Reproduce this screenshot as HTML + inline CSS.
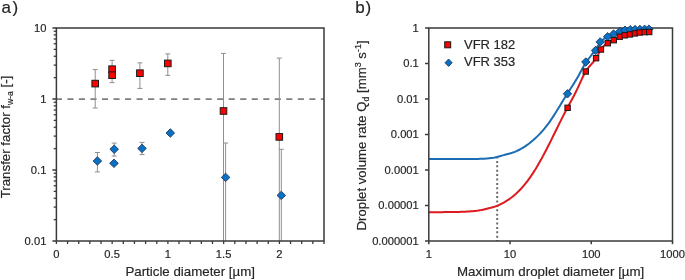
<!DOCTYPE html>
<html><head><meta charset="utf-8"><style>html,body{margin:0;padding:0;background:#fff;}svg{display:block;will-change:transform;}text{-webkit-font-smoothing:antialiased;}</style></head>
<body><svg width="685" height="280" viewBox="0 0 685 280" font-family="'Liberation Sans', sans-serif">
<style>text{stroke:#262626;stroke-width:0.18px;}</style>
<rect width="685" height="280" fill="#fff"/>
<text x="1.6" y="13.1" font-size="17" fill="#262626">a<tspan dx="1.4">)</tspan></text>
<text x="355.2" y="12.9" font-size="17" fill="#262626">b<tspan dx="0.8">)</tspan></text>
<line x1="55.9" y1="99.00" x2="324.00" y2="99.00" stroke="#7f7f7f" stroke-width="1.75" stroke-dasharray="6.1 5.42"/>
<line x1="95.20" y1="69.60" x2="95.20" y2="108.00" stroke="#8f8f8f" stroke-width="1"/><line x1="92.70" y1="69.60" x2="97.70" y2="69.60" stroke="#8f8f8f" stroke-width="1"/><line x1="92.70" y1="108.00" x2="97.70" y2="108.00" stroke="#8f8f8f" stroke-width="1"/>
<line x1="112.10" y1="60.30" x2="112.10" y2="82.60" stroke="#8f8f8f" stroke-width="1"/><line x1="109.60" y1="60.30" x2="114.60" y2="60.30" stroke="#8f8f8f" stroke-width="1"/><line x1="109.60" y1="82.60" x2="114.60" y2="82.60" stroke="#8f8f8f" stroke-width="1"/>
<line x1="139.90" y1="62.90" x2="139.90" y2="88.40" stroke="#8f8f8f" stroke-width="1"/><line x1="137.40" y1="62.90" x2="142.40" y2="62.90" stroke="#8f8f8f" stroke-width="1"/><line x1="137.40" y1="88.40" x2="142.40" y2="88.40" stroke="#8f8f8f" stroke-width="1"/>
<line x1="167.80" y1="53.90" x2="167.80" y2="75.40" stroke="#8f8f8f" stroke-width="1"/><line x1="165.30" y1="53.90" x2="170.30" y2="53.90" stroke="#8f8f8f" stroke-width="1"/><line x1="165.30" y1="75.40" x2="170.30" y2="75.40" stroke="#8f8f8f" stroke-width="1"/>
<line x1="223.50" y1="53.40" x2="223.50" y2="241.00" stroke="#8f8f8f" stroke-width="1"/><line x1="221.00" y1="53.40" x2="226.00" y2="53.40" stroke="#8f8f8f" stroke-width="1"/>
<line x1="279.30" y1="58.10" x2="279.30" y2="241.00" stroke="#8f8f8f" stroke-width="1"/><line x1="276.80" y1="58.10" x2="281.80" y2="58.10" stroke="#8f8f8f" stroke-width="1"/>
<line x1="97.40" y1="152.50" x2="97.40" y2="171.90" stroke="#8f8f8f" stroke-width="1"/><line x1="94.90" y1="152.50" x2="99.90" y2="152.50" stroke="#8f8f8f" stroke-width="1"/><line x1="94.90" y1="171.90" x2="99.90" y2="171.90" stroke="#8f8f8f" stroke-width="1"/>
<line x1="114.20" y1="143.10" x2="114.20" y2="156.00" stroke="#8f8f8f" stroke-width="1"/><line x1="111.70" y1="143.10" x2="116.70" y2="143.10" stroke="#8f8f8f" stroke-width="1"/><line x1="111.70" y1="156.00" x2="116.70" y2="156.00" stroke="#8f8f8f" stroke-width="1"/>
<line x1="142.00" y1="142.40" x2="142.00" y2="154.60" stroke="#8f8f8f" stroke-width="1"/><line x1="139.50" y1="142.40" x2="144.50" y2="142.40" stroke="#8f8f8f" stroke-width="1"/><line x1="139.50" y1="154.60" x2="144.50" y2="154.60" stroke="#8f8f8f" stroke-width="1"/>
<line x1="225.60" y1="143.00" x2="225.60" y2="241.00" stroke="#8f8f8f" stroke-width="1"/><line x1="223.10" y1="143.00" x2="228.10" y2="143.00" stroke="#8f8f8f" stroke-width="1"/>
<line x1="281.30" y1="149.30" x2="281.30" y2="241.00" stroke="#8f8f8f" stroke-width="1"/><line x1="278.80" y1="149.30" x2="283.80" y2="149.30" stroke="#8f8f8f" stroke-width="1"/>
<rect x="56.40" y="28.00" width="267.60" height="213.00" fill="none" stroke="#3a3a3a" stroke-width="1.5"/>
<line x1="52.4" y1="241.00" x2="56.40" y2="241.00" stroke="#3a3a3a" stroke-width="1.5"/>
<line x1="53.7" y1="219.63" x2="56.40" y2="219.63" stroke="#3a3a3a" stroke-width="1.3"/>
<line x1="53.7" y1="207.12" x2="56.40" y2="207.12" stroke="#3a3a3a" stroke-width="1.3"/>
<line x1="53.7" y1="198.25" x2="56.40" y2="198.25" stroke="#3a3a3a" stroke-width="1.3"/>
<line x1="53.7" y1="191.37" x2="56.40" y2="191.37" stroke="#3a3a3a" stroke-width="1.3"/>
<line x1="53.7" y1="185.75" x2="56.40" y2="185.75" stroke="#3a3a3a" stroke-width="1.3"/>
<line x1="53.7" y1="181.00" x2="56.40" y2="181.00" stroke="#3a3a3a" stroke-width="1.3"/>
<line x1="53.7" y1="176.88" x2="56.40" y2="176.88" stroke="#3a3a3a" stroke-width="1.3"/>
<line x1="53.7" y1="173.25" x2="56.40" y2="173.25" stroke="#3a3a3a" stroke-width="1.3"/>
<line x1="52.4" y1="170.00" x2="56.40" y2="170.00" stroke="#3a3a3a" stroke-width="1.5"/>
<line x1="53.7" y1="148.63" x2="56.40" y2="148.63" stroke="#3a3a3a" stroke-width="1.3"/>
<line x1="53.7" y1="136.12" x2="56.40" y2="136.12" stroke="#3a3a3a" stroke-width="1.3"/>
<line x1="53.7" y1="127.25" x2="56.40" y2="127.25" stroke="#3a3a3a" stroke-width="1.3"/>
<line x1="53.7" y1="120.37" x2="56.40" y2="120.37" stroke="#3a3a3a" stroke-width="1.3"/>
<line x1="53.7" y1="114.75" x2="56.40" y2="114.75" stroke="#3a3a3a" stroke-width="1.3"/>
<line x1="53.7" y1="110.00" x2="56.40" y2="110.00" stroke="#3a3a3a" stroke-width="1.3"/>
<line x1="53.7" y1="105.88" x2="56.40" y2="105.88" stroke="#3a3a3a" stroke-width="1.3"/>
<line x1="53.7" y1="102.25" x2="56.40" y2="102.25" stroke="#3a3a3a" stroke-width="1.3"/>
<line x1="52.4" y1="99.00" x2="56.40" y2="99.00" stroke="#3a3a3a" stroke-width="1.5"/>
<line x1="53.7" y1="77.63" x2="56.40" y2="77.63" stroke="#3a3a3a" stroke-width="1.3"/>
<line x1="53.7" y1="65.12" x2="56.40" y2="65.12" stroke="#3a3a3a" stroke-width="1.3"/>
<line x1="53.7" y1="56.25" x2="56.40" y2="56.25" stroke="#3a3a3a" stroke-width="1.3"/>
<line x1="53.7" y1="49.37" x2="56.40" y2="49.37" stroke="#3a3a3a" stroke-width="1.3"/>
<line x1="53.7" y1="43.75" x2="56.40" y2="43.75" stroke="#3a3a3a" stroke-width="1.3"/>
<line x1="53.7" y1="39.00" x2="56.40" y2="39.00" stroke="#3a3a3a" stroke-width="1.3"/>
<line x1="53.7" y1="34.88" x2="56.40" y2="34.88" stroke="#3a3a3a" stroke-width="1.3"/>
<line x1="53.7" y1="31.25" x2="56.40" y2="31.25" stroke="#3a3a3a" stroke-width="1.3"/>
<line x1="52.4" y1="28.00" x2="56.40" y2="28.00" stroke="#3a3a3a" stroke-width="1.5"/>
<line x1="56.40" y1="241.00" x2="56.40" y2="244.0" stroke="#3a3a3a" stroke-width="1.3"/>
<line x1="67.55" y1="241.00" x2="67.55" y2="244.0" stroke="#3a3a3a" stroke-width="1.3"/>
<line x1="78.70" y1="241.00" x2="78.70" y2="244.0" stroke="#3a3a3a" stroke-width="1.3"/>
<line x1="89.85" y1="241.00" x2="89.85" y2="244.0" stroke="#3a3a3a" stroke-width="1.3"/>
<line x1="101.00" y1="241.00" x2="101.00" y2="244.0" stroke="#3a3a3a" stroke-width="1.3"/>
<line x1="112.15" y1="241.00" x2="112.15" y2="244.0" stroke="#3a3a3a" stroke-width="1.3"/>
<line x1="123.30" y1="241.00" x2="123.30" y2="244.0" stroke="#3a3a3a" stroke-width="1.3"/>
<line x1="134.45" y1="241.00" x2="134.45" y2="244.0" stroke="#3a3a3a" stroke-width="1.3"/>
<line x1="145.60" y1="241.00" x2="145.60" y2="244.0" stroke="#3a3a3a" stroke-width="1.3"/>
<line x1="156.75" y1="241.00" x2="156.75" y2="244.0" stroke="#3a3a3a" stroke-width="1.3"/>
<line x1="167.90" y1="241.00" x2="167.90" y2="244.0" stroke="#3a3a3a" stroke-width="1.3"/>
<line x1="179.05" y1="241.00" x2="179.05" y2="244.0" stroke="#3a3a3a" stroke-width="1.3"/>
<line x1="190.20" y1="241.00" x2="190.20" y2="244.0" stroke="#3a3a3a" stroke-width="1.3"/>
<line x1="201.35" y1="241.00" x2="201.35" y2="244.0" stroke="#3a3a3a" stroke-width="1.3"/>
<line x1="212.50" y1="241.00" x2="212.50" y2="244.0" stroke="#3a3a3a" stroke-width="1.3"/>
<line x1="223.65" y1="241.00" x2="223.65" y2="244.0" stroke="#3a3a3a" stroke-width="1.3"/>
<line x1="234.80" y1="241.00" x2="234.80" y2="244.0" stroke="#3a3a3a" stroke-width="1.3"/>
<line x1="245.95" y1="241.00" x2="245.95" y2="244.0" stroke="#3a3a3a" stroke-width="1.3"/>
<line x1="257.10" y1="241.00" x2="257.10" y2="244.0" stroke="#3a3a3a" stroke-width="1.3"/>
<line x1="268.25" y1="241.00" x2="268.25" y2="244.0" stroke="#3a3a3a" stroke-width="1.3"/>
<line x1="279.40" y1="241.00" x2="279.40" y2="244.0" stroke="#3a3a3a" stroke-width="1.3"/>
<line x1="290.55" y1="241.00" x2="290.55" y2="244.0" stroke="#3a3a3a" stroke-width="1.3"/>
<line x1="301.70" y1="241.00" x2="301.70" y2="244.0" stroke="#3a3a3a" stroke-width="1.3"/>
<line x1="312.85" y1="241.00" x2="312.85" y2="244.0" stroke="#3a3a3a" stroke-width="1.3"/>
<line x1="324.00" y1="241.00" x2="324.00" y2="244.0" stroke="#3a3a3a" stroke-width="1.3"/>
<text x="46.4" y="31.90" font-size="11.2" text-anchor="end" fill="#262626">10</text>
<text x="46.4" y="102.90" font-size="11.2" text-anchor="end" fill="#262626">1</text>
<text x="46.4" y="173.90" font-size="11.2" text-anchor="end" fill="#262626">0.1</text>
<text x="46.4" y="244.90" font-size="11.2" text-anchor="end" fill="#262626">0.01</text>
<text x="56.40" y="258.2" font-size="11.2" text-anchor="middle" fill="#262626">0</text>
<text x="112.15" y="258.2" font-size="11.2" text-anchor="middle" fill="#262626">0.5</text>
<text x="167.90" y="258.2" font-size="11.2" text-anchor="middle" fill="#262626">1</text>
<text x="223.65" y="258.2" font-size="11.2" text-anchor="middle" fill="#262626">1.5</text>
<text x="279.40" y="258.2" font-size="11.2" text-anchor="middle" fill="#262626">2</text>
<text x="190.20" y="276.0" font-size="13.3" text-anchor="middle" fill="#262626">Particle diameter [µm]</text>
<text transform="translate(9.7,137.0) rotate(-90)" font-size="13.3" text-anchor="middle" fill="#262626">Transfer factor f<tspan font-size="8.6" dy="2.8">w-a</tspan><tspan dy="-2.8"> [-]</tspan></text>
<path d="M97.40 156.80L101.70 161.00L97.40 165.20L93.10 161.00Z" fill="#0a70c4" stroke="#1c3a66" stroke-width="0.9"/>
<path d="M114.20 145.00L118.50 149.20L114.20 153.40L109.90 149.20Z" fill="#0a70c4" stroke="#1c3a66" stroke-width="0.9"/>
<path d="M114.00 159.10L118.30 163.30L114.00 167.50L109.70 163.30Z" fill="#0a70c4" stroke="#1c3a66" stroke-width="0.9"/>
<path d="M142.00 144.20L146.30 148.40L142.00 152.60L137.70 148.40Z" fill="#0a70c4" stroke="#1c3a66" stroke-width="0.9"/>
<path d="M170.30 128.80L174.60 133.00L170.30 137.20L166.00 133.00Z" fill="#0a70c4" stroke="#1c3a66" stroke-width="0.9"/>
<path d="M225.60 173.20L229.90 177.40L225.60 181.60L221.30 177.40Z" fill="#0a70c4" stroke="#1c3a66" stroke-width="0.9"/>
<path d="M281.30 191.20L285.60 195.40L281.30 199.60L277.00 195.40Z" fill="#0a70c4" stroke="#1c3a66" stroke-width="0.9"/>
<rect x="91.90" y="80.30" width="6.60" height="6.60" fill="#ff0000" stroke="#1a1a1a" stroke-width="1.0"/>
<rect x="108.80" y="65.90" width="6.60" height="6.60" fill="#ff0000" stroke="#1a1a1a" stroke-width="1.0"/>
<rect x="108.80" y="71.90" width="6.60" height="6.60" fill="#ff0000" stroke="#1a1a1a" stroke-width="1.0"/>
<rect x="136.60" y="69.90" width="6.60" height="6.60" fill="#ff0000" stroke="#1a1a1a" stroke-width="1.0"/>
<rect x="164.50" y="60.10" width="6.60" height="6.60" fill="#ff0000" stroke="#1a1a1a" stroke-width="1.0"/>
<rect x="220.20" y="107.70" width="6.60" height="6.60" fill="#ff0000" stroke="#1a1a1a" stroke-width="1.0"/>
<rect x="276.00" y="133.60" width="6.60" height="6.60" fill="#ff0000" stroke="#1a1a1a" stroke-width="1.0"/>
<line x1="497.2" y1="241.00" x2="497.2" y2="157.5" stroke="#6b6b6b" stroke-width="2" stroke-dasharray="2 2.4" stroke-dashoffset="-3.3"/>
<path d="M428.8 159.10 L429.8 159.10 L430.8 159.10 L431.8 159.10 L432.8 159.10 L433.8 159.10 L434.8 159.10 L435.8 159.10 L436.8 159.10 L437.8 159.10 L438.8 159.10 L439.8 159.10 L440.8 159.10 L441.8 159.10 L442.8 159.10 L443.8 159.10 L444.8 159.10 L445.8 159.10 L446.8 159.10 L447.8 159.10 L448.8 159.10 L449.8 159.09 L450.8 159.09 L451.8 159.09 L452.8 159.09 L453.8 159.09 L454.8 159.09 L455.8 159.09 L456.8 159.09 L457.8 159.08 L458.8 159.08 L459.8 159.08 L460.8 159.08 L461.8 159.07 L462.8 159.07 L463.8 159.07 L464.8 159.06 L465.8 159.06 L466.8 159.05 L467.8 159.04 L468.8 159.04 L469.8 159.03 L470.8 159.02 L471.8 159.01 L472.8 159.00 L473.8 158.98 L474.8 158.97 L475.8 158.95 L476.8 158.93 L477.8 158.90 L478.8 158.88 L479.8 158.85 L480.8 158.81 L481.8 158.78 L482.8 158.73 L483.8 158.68 L484.8 158.63 L485.8 158.57 L486.8 158.50 L487.8 158.42 L488.8 158.32 L489.8 158.22 L490.8 158.12 L491.8 158.01 L492.8 157.87 L493.8 157.71 L494.8 157.52 L495.8 157.30 L496.8 157.06 L497.8 156.79 L498.8 156.51 L499.8 156.22 L500.8 155.93 L501.8 155.64 L502.8 155.37 L503.8 155.10 L504.8 154.84 L505.8 154.58 L506.8 154.32 L507.8 154.06 L508.8 153.80 L509.8 153.52 L510.8 153.22 L511.8 152.90 L512.8 152.56 L513.8 152.19 L514.8 151.81 L515.8 151.39 L516.8 150.96 L517.8 150.50 L518.8 150.01 L519.8 149.50 L520.8 148.96 L521.8 148.39 L522.8 147.80 L523.8 147.18 L524.8 146.54 L525.8 145.87 L526.8 145.17 L527.8 144.45 L528.8 143.70 L529.8 142.93 L530.8 142.14 L531.8 141.33 L532.8 140.49 L533.8 139.62 L534.8 138.73 L535.8 137.82 L536.8 136.87 L537.8 135.90 L538.8 134.89 L539.8 133.86 L540.8 132.79 L541.8 131.69 L542.8 130.56 L543.8 129.39 L544.8 128.18 L545.8 126.94 L546.8 125.66 L547.8 124.34 L548.8 122.98 L549.8 121.58 L550.8 120.14 L551.8 118.66 L552.8 117.15 L553.8 115.60 L554.8 114.03 L555.8 112.44 L556.8 110.83 L557.8 109.20 L558.8 107.57 L559.8 105.92 L560.8 104.27 L561.8 102.62 L562.8 100.98 L563.8 99.34 L564.8 97.72 L565.8 96.10 L566.8 94.51 L567.8 92.94 L568.8 91.39 L569.8 89.85 L570.8 88.31 L571.8 86.77 L572.8 85.21 L573.8 83.64 L574.8 82.03 L575.8 80.39 L576.8 78.69 L577.8 76.95 L578.8 75.15 L579.8 73.31 L580.8 71.46 L581.8 69.62 L582.8 67.81 L583.8 66.05 L584.8 64.36 L585.8 62.77 L586.8 61.28 L587.8 59.88 L588.8 58.55 L589.8 57.26 L590.8 56.00 L591.8 54.74 L592.8 53.46 L593.8 52.13 L594.8 50.74 L595.8 49.25 L596.8 47.68 L597.8 46.09 L598.8 44.55 L599.8 43.10 L600.8 41.83 L601.8 40.73 L602.8 39.79 L603.8 38.98 L604.8 38.27 L605.8 37.65 L606.8 37.08 L607.8 36.53 L608.8 36.00 L609.8 35.49 L610.8 34.98 L611.8 34.50 L612.8 34.04 L613.8 33.61 L614.8 33.20 L615.8 32.82 L616.8 32.46 L617.8 32.13 L618.8 31.82 L619.8 31.54 L620.8 31.28 L621.8 31.04 L622.8 30.82 L623.8 30.62 L624.8 30.44 L625.8 30.27 L626.8 30.13 L627.8 29.99 L628.8 29.88 L629.8 29.77 L630.8 29.68 L631.8 29.61 L632.8 29.54 L633.8 29.48 L634.8 29.44 L635.8 29.40 L636.8 29.37 L637.8 29.34 L638.8 29.33 L639.8 29.31 L640.8 29.30 L641.8 29.30 L642.8 29.29 L643.8 29.29 L644.8 29.28 L645.8 29.28 L646.8 29.27 L647.8 29.27 L648.8 29.25" fill="none" stroke="#1b6cb2" stroke-width="2" stroke-linejoin="round"/>
<path d="M428.8 212.18 L429.8 212.18 L430.8 212.18 L431.8 212.17 L432.8 212.17 L433.8 212.17 L434.8 212.17 L435.8 212.16 L436.8 212.16 L437.8 212.16 L438.8 212.15 L439.8 212.15 L440.8 212.14 L441.8 212.14 L442.8 212.13 L443.8 212.12 L444.8 212.12 L445.8 212.11 L446.8 212.10 L447.8 212.09 L448.8 212.08 L449.8 212.07 L450.8 212.06 L451.8 212.04 L452.8 212.03 L453.8 212.01 L454.8 212.00 L455.8 211.98 L456.8 211.96 L457.8 211.93 L458.8 211.91 L459.8 211.88 L460.8 211.85 L461.8 211.82 L462.8 211.78 L463.8 211.74 L464.8 211.70 L465.8 211.65 L466.8 211.60 L467.8 211.54 L468.8 211.48 L469.8 211.42 L470.8 211.36 L471.8 211.29 L472.8 211.21 L473.8 211.12 L474.8 211.02 L475.8 210.90 L476.8 210.77 L477.8 210.63 L478.8 210.47 L479.8 210.30 L480.8 210.11 L481.8 209.90 L482.8 209.68 L483.8 209.45 L484.8 209.21 L485.8 208.96 L486.8 208.70 L487.8 208.45 L488.8 208.19 L489.8 207.95 L490.8 207.71 L491.8 207.47 L492.8 207.22 L493.8 206.95 L494.8 206.66 L495.8 206.32 L496.8 205.94 L497.8 205.52 L498.8 205.07 L499.8 204.60 L500.8 204.11 L501.8 203.60 L502.8 203.07 L503.8 202.51 L504.8 201.94 L505.8 201.34 L506.8 200.72 L507.8 200.07 L508.8 199.40 L509.8 198.70 L510.8 197.97 L511.8 197.21 L512.8 196.43 L513.8 195.61 L514.8 194.77 L515.8 193.89 L516.8 192.97 L517.8 192.02 L518.8 191.04 L519.8 190.02 L520.8 188.97 L521.8 187.88 L522.8 186.75 L523.8 185.59 L524.8 184.39 L525.8 183.15 L526.8 181.87 L527.8 180.56 L528.8 179.21 L529.8 177.82 L530.8 176.39 L531.8 174.92 L532.8 173.42 L533.8 171.87 L534.8 170.29 L535.8 168.67 L536.8 167.01 L537.8 165.31 L538.8 163.58 L539.8 161.82 L540.8 160.02 L541.8 158.20 L542.8 156.36 L543.8 154.48 L544.8 152.59 L545.8 150.67 L546.8 148.74 L547.8 146.79 L548.8 144.82 L549.8 142.83 L550.8 140.84 L551.8 138.83 L552.8 136.82 L553.8 134.79 L554.8 132.76 L555.8 130.73 L556.8 128.69 L557.8 126.66 L558.8 124.63 L559.8 122.61 L560.8 120.59 L561.8 118.59 L562.8 116.61 L563.8 114.64 L564.8 112.69 L565.8 110.76 L566.8 108.86 L567.8 106.99 L568.8 105.15 L569.8 103.32 L570.8 101.49 L571.8 99.66 L572.8 97.81 L573.8 95.93 L574.8 94.02 L575.8 92.05 L576.8 90.02 L577.8 87.92 L578.8 85.75 L579.8 83.54 L580.8 81.33 L581.8 79.15 L582.8 77.03 L583.8 75.01 L584.8 73.12 L585.8 71.39 L586.8 69.85 L587.8 68.46 L588.8 67.20 L589.8 66.02 L590.8 64.89 L591.8 63.76 L592.8 62.60 L593.8 61.38 L594.8 60.05 L595.8 58.57 L596.8 56.92 L597.8 55.13 L598.8 53.30 L599.8 51.51 L600.8 49.84 L601.8 48.38 L602.8 47.12 L603.8 46.03 L604.8 45.11 L605.8 44.32 L606.8 43.65 L607.8 43.06 L608.8 42.55 L609.8 42.08 L610.8 41.63 L611.8 41.19 L612.8 40.73 L613.8 40.23 L614.8 39.67 L615.8 39.07 L616.8 38.45 L617.8 37.85 L618.8 37.28 L619.8 36.76 L620.8 36.32 L621.8 35.95 L622.8 35.64 L623.8 35.39 L624.8 35.17 L625.8 34.99 L626.8 34.82 L627.8 34.68 L628.8 34.54 L629.8 34.39 L630.8 34.23 L631.8 34.06 L632.8 33.87 L633.8 33.68 L634.8 33.49 L635.8 33.29 L636.8 33.10 L637.8 32.91 L638.8 32.73 L639.8 32.56 L640.8 32.40 L641.8 32.26 L642.8 32.14 L643.8 32.04 L644.8 31.97 L645.8 31.93 L646.8 31.92 L647.8 31.94 L648.8 32.01" fill="none" stroke="#dc1a1f" stroke-width="2" stroke-linejoin="round"/>
<rect x="428.80" y="28" width="243.70" height="213" fill="none" stroke="#3a3a3a" stroke-width="1.5"/>
<line x1="425.0" y1="28.00" x2="428.80" y2="28.00" stroke="#3a3a3a" stroke-width="1.5"/>
<text x="418.8" y="31.90" font-size="11.2" text-anchor="end" fill="#262626">1</text>
<line x1="425.0" y1="63.50" x2="428.80" y2="63.50" stroke="#3a3a3a" stroke-width="1.5"/>
<text x="418.8" y="67.40" font-size="11.2" text-anchor="end" fill="#262626">0.1</text>
<line x1="425.0" y1="99.00" x2="428.80" y2="99.00" stroke="#3a3a3a" stroke-width="1.5"/>
<text x="418.8" y="102.90" font-size="11.2" text-anchor="end" fill="#262626">0.01</text>
<line x1="425.0" y1="134.50" x2="428.80" y2="134.50" stroke="#3a3a3a" stroke-width="1.5"/>
<text x="418.8" y="138.40" font-size="11.2" text-anchor="end" fill="#262626">0.001</text>
<line x1="425.0" y1="170.00" x2="428.80" y2="170.00" stroke="#3a3a3a" stroke-width="1.5"/>
<text x="418.8" y="173.90" font-size="11.2" text-anchor="end" fill="#262626">0.0001</text>
<line x1="425.0" y1="205.50" x2="428.80" y2="205.50" stroke="#3a3a3a" stroke-width="1.5"/>
<text x="418.8" y="209.40" font-size="11.2" text-anchor="end" fill="#262626">0.00001</text>
<line x1="425.0" y1="241.00" x2="428.80" y2="241.00" stroke="#3a3a3a" stroke-width="1.5"/>
<text x="418.8" y="244.90" font-size="11.2" text-anchor="end" fill="#262626">0.000001</text>
<line x1="428.80" y1="241" x2="428.80" y2="244.2" stroke="#3a3a3a" stroke-width="1.5"/>
<text x="428.80" y="258.2" font-size="11.2" text-anchor="middle" fill="#262626">1</text>
<line x1="510.03" y1="241" x2="510.03" y2="244.2" stroke="#3a3a3a" stroke-width="1.5"/>
<text x="510.03" y="258.2" font-size="11.2" text-anchor="middle" fill="#262626">10</text>
<line x1="591.26" y1="241" x2="591.26" y2="244.2" stroke="#3a3a3a" stroke-width="1.5"/>
<text x="591.26" y="258.2" font-size="11.2" text-anchor="middle" fill="#262626">100</text>
<line x1="672.49" y1="241" x2="672.49" y2="244.2" stroke="#3a3a3a" stroke-width="1.5"/>
<text x="672.49" y="258.2" font-size="11.2" text-anchor="middle" fill="#262626">1000</text>
<text x="550.65" y="276.0" font-size="13.3" text-anchor="middle" fill="#262626">Maximum droplet diameter [µm]</text>
<text transform="translate(366.4,135.4) rotate(-90)" font-size="13.2" text-anchor="middle" fill="#262626">Droplet volume rate Q<tspan font-size="8.5" dy="2.3">d</tspan><tspan dy="-2.3"> [mm</tspan><tspan font-size="9" dy="-5">3</tspan><tspan dy="5"> s</tspan><tspan font-size="9" dy="-5">-1</tspan><tspan dy="5">]</tspan></text>
<path d="M567.50 89.60L571.70 93.80L567.50 98.00L563.30 93.80Z" fill="#0a70c4" stroke="#1c3a66" stroke-width="0.9"/>
<path d="M585.80 57.80L590.00 62.00L585.80 66.20L581.60 62.00Z" fill="#0a70c4" stroke="#1c3a66" stroke-width="0.9"/>
<path d="M595.50 46.30L599.70 50.50L595.50 54.70L591.30 50.50Z" fill="#0a70c4" stroke="#1c3a66" stroke-width="0.9"/>
<path d="M600.20 37.70L604.40 41.90L600.20 46.10L596.00 41.90Z" fill="#0a70c4" stroke="#1c3a66" stroke-width="0.9"/>
<path d="M607.60 32.50L611.80 36.70L607.60 40.90L603.40 36.70Z" fill="#0a70c4" stroke="#1c3a66" stroke-width="0.9"/>
<path d="M613.60 29.80L617.80 34.00L613.60 38.20L609.40 34.00Z" fill="#0a70c4" stroke="#1c3a66" stroke-width="0.9"/>
<path d="M620.00 27.20L624.20 31.40L620.00 35.60L615.80 31.40Z" fill="#0a70c4" stroke="#1c3a66" stroke-width="0.9"/>
<path d="M625.00 26.00L629.20 30.20L625.00 34.40L620.80 30.20Z" fill="#0a70c4" stroke="#1c3a66" stroke-width="0.9"/>
<path d="M630.20 25.50L634.40 29.70L630.20 33.90L626.00 29.70Z" fill="#0a70c4" stroke="#1c3a66" stroke-width="0.9"/>
<path d="M635.10 25.30L639.30 29.50L635.10 33.70L630.90 29.50Z" fill="#0a70c4" stroke="#1c3a66" stroke-width="0.9"/>
<path d="M639.90 25.20L644.10 29.40L639.90 33.60L635.70 29.40Z" fill="#0a70c4" stroke="#1c3a66" stroke-width="0.9"/>
<path d="M644.60 25.10L648.80 29.30L644.60 33.50L640.40 29.30Z" fill="#0a70c4" stroke="#1c3a66" stroke-width="0.9"/>
<path d="M648.90 25.00L653.10 29.20L648.90 33.40L644.70 29.20Z" fill="#0a70c4" stroke="#1c3a66" stroke-width="0.9"/>
<rect x="564.90" y="105.10" width="5.40" height="5.40" fill="#ff0000" stroke="#1a1a1a" stroke-width="1.0"/>
<rect x="583.10" y="68.80" width="5.40" height="5.40" fill="#ff0000" stroke="#1a1a1a" stroke-width="1.0"/>
<rect x="593.40" y="55.50" width="5.40" height="5.40" fill="#ff0000" stroke="#1a1a1a" stroke-width="1.0"/>
<rect x="598.20" y="46.80" width="5.40" height="5.40" fill="#ff0000" stroke="#1a1a1a" stroke-width="1.0"/>
<rect x="605.10" y="40.50" width="5.40" height="5.40" fill="#ff0000" stroke="#1a1a1a" stroke-width="1.0"/>
<rect x="611.10" y="37.50" width="5.40" height="5.40" fill="#ff0000" stroke="#1a1a1a" stroke-width="1.0"/>
<rect x="617.00" y="34.00" width="5.40" height="5.40" fill="#ff0000" stroke="#1a1a1a" stroke-width="1.0"/>
<rect x="622.00" y="32.60" width="5.40" height="5.40" fill="#ff0000" stroke="#1a1a1a" stroke-width="1.0"/>
<rect x="627.30" y="31.70" width="5.40" height="5.40" fill="#ff0000" stroke="#1a1a1a" stroke-width="1.0"/>
<rect x="632.20" y="30.70" width="5.40" height="5.40" fill="#ff0000" stroke="#1a1a1a" stroke-width="1.0"/>
<rect x="637.00" y="29.80" width="5.40" height="5.40" fill="#ff0000" stroke="#1a1a1a" stroke-width="1.0"/>
<rect x="642.00" y="29.40" width="5.40" height="5.40" fill="#ff0000" stroke="#1a1a1a" stroke-width="1.0"/>
<rect x="646.50" y="29.30" width="5.40" height="5.40" fill="#ff0000" stroke="#1a1a1a" stroke-width="1.0"/>
<rect x="444.70" y="41.80" width="6.00" height="6.00" fill="#ff0000" stroke="#1a1a1a" stroke-width="1.0"/>
<path d="M448.60 59.00L452.20 62.70L448.60 66.40L445.00 62.70Z" fill="#0a70c4" stroke="#1c3a66" stroke-width="0.9"/>
<text x="464.0" y="49.3" font-size="13" fill="#262626">VFR 182</text>
<text x="464.0" y="66.4" font-size="13" fill="#262626">VFR 353</text>
</svg></body></html>
